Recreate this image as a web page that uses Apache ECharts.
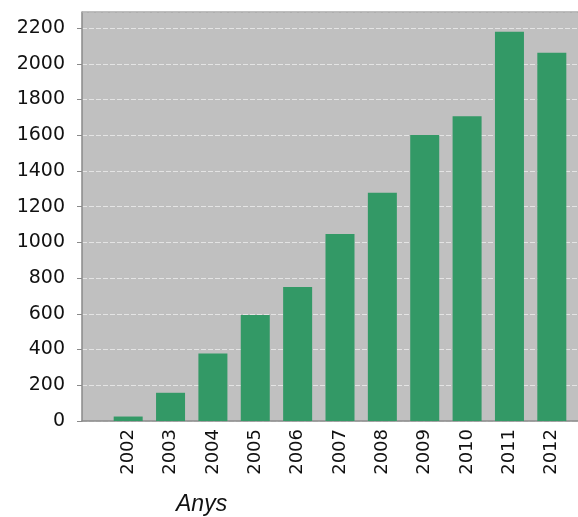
<!DOCTYPE html>
<html>
<head>
<meta charset="utf-8">
<script src="https://cdn.jsdelivr.net/npm/echarts@6/dist/echarts.min.js"></script>
<style>html,body{margin:0;padding:0;background:#fff}#c{width:578px;height:517px}</style>
</head>
<body>
<div id="c"></div>
<script>
const years = ['2002','2003','2004','2005','2006','2007','2008','2009','2010','2011','2012'];
const values = [25, 158, 378, 593, 750, 1047, 1278, 1601, 1707, 2179, 2062];
const yMin = 0, yMax = 2290, yStep = 200;
const axisTitle = 'Anys';

const chart = echarts.init(document.getElementById('c'), null, {renderer: 'canvas'});
chart.setOption({
  animation: false,
  grid: [
    {left: 82, right: -2, top: 12, bottom: 96, show: true, backgroundColor: '#c0c0c0', borderWidth: 0},
    {left: 107, right: 5, top: 12, bottom: 96}
  ],
  xAxis: [
    {gridIndex: 0, type: 'value', min: 0, max: 1, axisLabel: {show: false}, axisTick: {show: false},
     splitLine: {show: false}, axisLine: {show: true, lineStyle: {color: '#8a8a8a', width: 1.5}}},
    {gridIndex: 1, type: 'category', data: years, axisLine: {show: false}, axisTick: {show: false},
     axisLabel: {rotate: 90, margin: 8, fontSize: 18, color: '#111', fontFamily: 'DejaVu Sans'}}
  ],
  yAxis: [
    {gridIndex: 0, type: 'value', min: yMin, max: yMax, interval: yStep,
     axisLine: {show: true, lineStyle: {color: '#8a8a8a', width: 1.5}},
     axisTick: {show: true, length: 5, lineStyle: {color: '#8a8a8a'}},
     axisLabel: {margin: 17, fontSize: 19, color: '#111', fontFamily: 'DejaVu Sans', showMaxLabel: false,
       formatter: function (v) { return (v % yStep === 0) ? String(v) : ''; }},
     splitLine: {show: true, lineStyle: {color: '#e4e4e4', type: [5, 2], width: 1}}},
    {gridIndex: 1, type: 'value', min: yMin, max: yMax, show: false, splitLine: {show: false}}
  ],
  graphic: [
    {type: 'line', shape: {x1: 82, y1: 12, x2: 578, y2: 12}, style: {stroke: '#a8a8a8', lineWidth: 1.5}, z: 100},
    {type: 'text', left: 176, top: 493, style: {text: axisTitle, fontSize: 23, fontStyle: 'italic', fontFamily: 'Liberation Sans, Arial', fill: '#111'}}
  ],
  series: [{
    type: 'bar', xAxisIndex: 1, yAxisIndex: 1, data: values, barWidth: 29,
    itemStyle: {color: '#339966'}
  }]
});
</script>
</body>
</html>
